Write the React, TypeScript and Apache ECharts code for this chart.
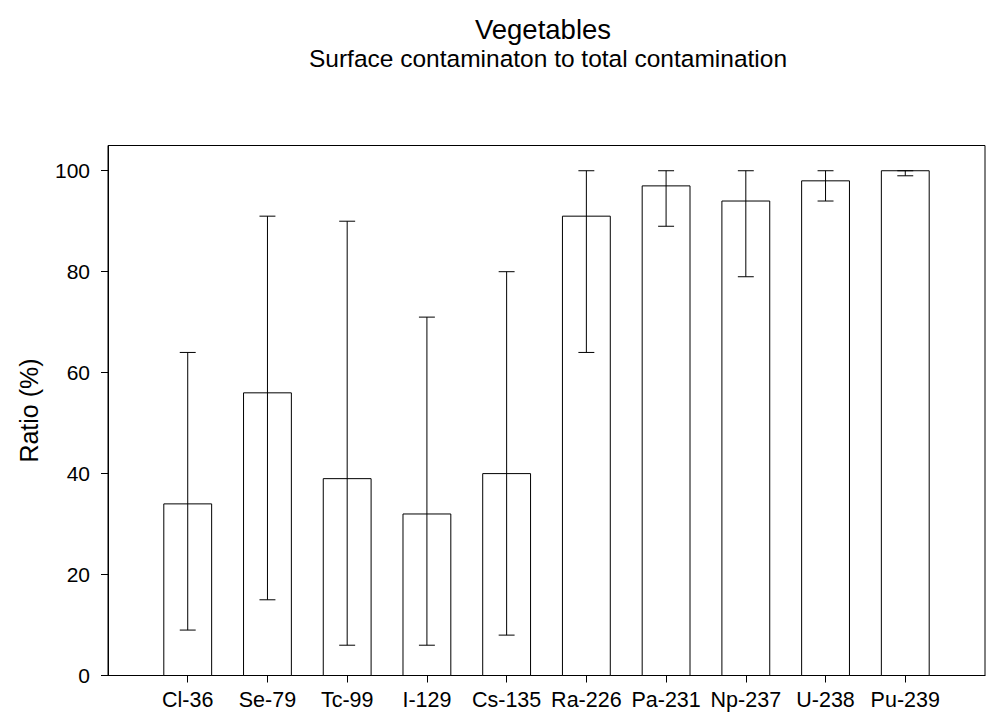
import React, { useEffect, useRef } from "react";
import * as echarts from "echarts";

const categories = ["Cl-36", "Se-79", "Tc-99", "I-129", "Cs-135", "Ra-226", "Pa-231", "Np-237", "U-238", "Pu-239"];
const ratios = [34, 56, 39, 32, 40, 91, 97, 94, 98, 100];
const errLow = [9, 15, 6, 6, 8, 64, 89, 79, 94, 99];
const errHigh = [64, 91, 90, 71, 80, 100, 100, 100, 100, 100];
const yTicks = [0, 20, 40, 60, 80, 100];
const xTicks = categories.map((_, i) => i + 1);

const FONT = "Liberation Sans, Arial, sans-serif";

export default function App() {
  const ref = useRef<HTMLDivElement>(null);
  useEffect(() => {
    document.body.style.margin = "0";
    if (!ref.current) return;
    const chart = echarts.init(ref.current, undefined, { renderer: "svg" });
    const data = categories.map((_, i) => [i + 1, ratios[i], errLow[i], errHigh[i]]);
    chart.setOption({
      animation: false,
      backgroundColor: "#fff",
      textStyle: { fontFamily: FONT },
      graphic: [
        {
          type: "text",
          x: 543,
          y: 29,
          style: { text: "Vegetables", fontSize: 27.5, fontFamily: FONT, fill: "#000", textAlign: "center", textVerticalAlign: "middle" },
        },
        {
          type: "text",
          x: 548,
          y: 58,
          style: { text: "Surface contaminaton to total contamination", fontSize: 24.5, fontFamily: FONT, fill: "#000", textAlign: "center", textVerticalAlign: "middle" },
        },
      ],
      grid: { left: 108, right: 4, top: 145.5, bottom: 42.5, show: true, borderColor: "#000", borderWidth: 1, backgroundColor: "transparent" },
      xAxis: {
        type: "value",
        min: 0,
        max: 11,
        axisLine: { show: true, lineStyle: { color: "#000", width: 1 } },
        axisTick: { show: true, customValues: xTicks, length: 7, lineStyle: { color: "#000" } },
        axisLabel: {
          customValues: xTicks,
          formatter: (v: number) => categories[Math.round(v) - 1] ?? "",
          fontSize: 21.5,
          color: "#000",
          margin: 13,
          fontFamily: FONT,
        },
        splitLine: { show: false },
      },
      yAxis: {
        type: "value",
        min: 0,
        max: 105,
        name: "Ratio (%)",
        nameLocation: "middle",
        nameGap: 67,
        nameTextStyle: { fontSize: 25, color: "#000", fontFamily: FONT },
        axisLine: { show: true, lineStyle: { color: "#000", width: 1 } },
        axisTick: { show: true, customValues: yTicks, length: 7, lineStyle: { color: "#000" } },
        axisLabel: { customValues: yTicks, fontSize: 21, color: "#000", margin: 18, fontFamily: FONT },
        splitLine: { show: false },
      },
      series: [
        {
          type: "custom",
          data,
          clip: false,
          renderItem: (params: any, api: any) => {
            const x = api.value(0);
            const v = api.value(1);
            const lo = api.value(2);
            const hi = api.value(3);
            const base = api.coord([x, 0]);
            const top = api.coord([x, v]);
            const pLo = api.coord([x, lo]);
            const pHi = api.coord([x, hi]);
            const barW = api.size([0.6, 0])[0];
            const capW = api.size([0.2, 0])[0];
            const lineStyle = { stroke: "#000", lineWidth: 1, fill: "none" };
            return {
              type: "group",
              children: [
                {
                  type: "rect",
                  shape: { x: base[0] - barW / 2, y: top[1], width: barW, height: base[1] - top[1] },
                  style: { fill: "#fff", stroke: "#000", lineWidth: 1 },
                },
                { type: "line", shape: { x1: pLo[0], y1: pLo[1], x2: pHi[0], y2: pHi[1] }, style: lineStyle },
                { type: "line", shape: { x1: pHi[0] - capW / 2, y1: pHi[1], x2: pHi[0] + capW / 2, y2: pHi[1] }, style: lineStyle },
                { type: "line", shape: { x1: pLo[0] - capW / 2, y1: pLo[1], x2: pLo[0] + capW / 2, y2: pLo[1] }, style: lineStyle },
              ],
            };
          },
        },
      ],
    });
    return () => chart.dispose();
  }, []);
  return <div ref={ref} style={{ width: 989, height: 718 }} />;
}
